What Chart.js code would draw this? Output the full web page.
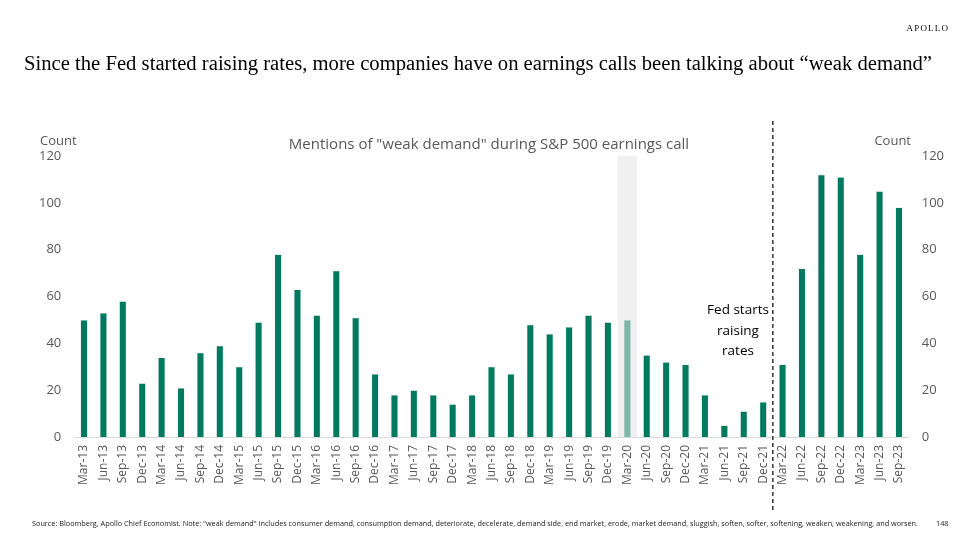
<!DOCTYPE html>
<html>
<head>
<meta charset="utf-8">
<script src="https://cdn.jsdelivr.net/npm/chart.js@4"></script>
<style>
html,body{margin:0;padding:0;background:#fff;}
#wrap{position:relative;width:977px;height:549px;}
</style>
</head>
<body>
<div id="wrap"><canvas id="c" width="977" height="549"></canvas></div>
<script>
const categories = ["Mar-13","Jun-13","Sep-13","Dec-13","Mar-14","Jun-14","Sep-14","Dec-14","Mar-15","Jun-15","Sep-15","Dec-15","Mar-16","Jun-16","Sep-16","Dec-16","Mar-17","Jun-17","Sep-17","Dec-17","Mar-18","Jun-18","Sep-18","Dec-18","Mar-19","Jun-19","Sep-19","Dec-19","Mar-20","Jun-20","Sep-20","Dec-20","Mar-21","Jun-21","Sep-21","Dec-21","Mar-22","Jun-22","Sep-22","Dec-22","Mar-23","Jun-23","Sep-23"];
const mentions = [50,53,58,23,34,21,36,39,30,49,78,63,52,71,51,27,18,20,18,14,18,30,27,48,44,47,52,49,50,35,32,31,18,5,11,15,31,72,112,111,78,105,98];
const yTicks = [0,20,40,60,80,100,120];
const highlightCategory = "Mar-20";
const fedStartAfter = "Dec-21";
const titleText = "Since the Fed started raising rates, more companies have on earnings calls been talking about \u201cweak demand\u201d";
const chartTitle = 'Mentions of "weak demand" during S&P 500 earnings call';
const annotationLines = ["Fed starts","raising","rates"];
const footerText = 'Source: Bloomberg, Apollo Chief Economist. Note: "weak demand" includes consumer demand, consumption demand, deteriorate, decelerate, demand side, end market, erode, market demand, sluggish, soften, softer, softening, weaken, weakening, and worsen.';
const pageNumber = "148";

const GREEN = "#007A5E";
const LIGHT = "#7FB7A6";
const GRAY = "#595959";
const SANS = "'Open Sans', 'Noto Sans', sans-serif";

const barColors = categories.map(c => c === highlightCategory ? LIGHT : GREEN);

const decor = {
  id: 'decor',
  beforeDatasetsDraw(chart) {
    const {ctx, scales:{x, y}} = chart;
    const i = categories.indexOf(highlightCategory);
    const half = (x.getPixelForValue(1) - x.getPixelForValue(0)) / 2;
    const cx = x.getPixelForValue(i);
    ctx.save();
    ctx.fillStyle = "#F0F0F0";
    ctx.fillRect(cx - half, y.getPixelForValue(120), half * 2, y.getPixelForValue(0) - y.getPixelForValue(120));
    ctx.restore();
  },
  afterDraw(chart) {
    const {ctx, scales:{x, y}} = chart;
    ctx.save();
    // Title
    ctx.fillStyle = "#000";
    ctx.font = "20px 'Liberation Serif', serif";
    ctx.textBaseline = "alphabetic";
    ctx.textAlign = "left";
    const tw = ctx.measureText(titleText).width;
    ctx.save();
    ctx.translate(24, 70);
    ctx.scale(908 / tw, 1);
    ctx.fillText(titleText, 0, 0);
    ctx.restore();
    // APOLLO
    ctx.font = "9px 'Liberation Serif', serif";
    ctx.textAlign = "right";
    const letters = "APOLLO".split("");
    let px = 948;
    for (let k = letters.length - 1; k >= 0; k--) {
      ctx.fillText(letters[k], px, 31);
      px -= ctx.measureText(letters[k]).width + 1.2;
    }
    // Chart title
    ctx.fillStyle = GRAY;
    ctx.font = "15px " + SANS;
    ctx.textAlign = "center";
    ctx.fillText(chartTitle, 489, 149);
    // Count labels
    ctx.font = "13px " + SANS;
    ctx.textAlign = "left";
    ctx.fillText("Count", 40, 145);
    ctx.textAlign = "right";
    ctx.fillText("Count", 911, 145);
    // Dashed line between Dec-21 and Mar-22
    const j = categories.indexOf(fedStartAfter);
    const lx = (x.getPixelForValue(j) + x.getPixelForValue(j + 1)) / 2;
    ctx.strokeStyle = "#000";
    ctx.lineWidth = 1.2;
    ctx.setLineDash([4, 3]);
    ctx.beginPath();
    ctx.moveTo(lx, 121);
    ctx.lineTo(lx, 512);
    ctx.stroke();
    ctx.setLineDash([]);
    // Annotation
    ctx.fillStyle = "#000";
    ctx.font = "13.5px " + SANS;
    ctx.textAlign = "center";
    annotationLines.forEach((t, k) => ctx.fillText(t, 738, 314 + k * 20.5));
    // Footer
    ctx.fillStyle = "#222";
    ctx.font = "7.3px " + SANS;
    ctx.textAlign = "left";
    const fw = ctx.measureText(footerText).width;
    ctx.save();
    ctx.translate(32, 526);
    ctx.scale(886 / fw, 1);
    ctx.fillText(footerText, 0, 0);
    ctx.restore();
    ctx.fillText(pageNumber, 936, 526);
    ctx.restore();
  }
};

new Chart(document.getElementById('c'), {
  type: 'bar',
  data: {
    labels: categories,
    datasets: [{
      data: mentions,
      backgroundColor: barColors,
      borderColor: "rgba(200,215,210,0.9)",
      borderWidth: 0.6,
      categoryPercentage: 1,
      barPercentage: 0.37,
      yAxisID: 'y'
    }]
  },
  options: {
    responsive: false,
    animation: false,
    devicePixelRatio: 1,
    layout: { padding: { top: 156, left: 0, right: 0, bottom: 0 } },
    plugins: { legend: { display: false }, tooltip: { enabled: false } },
    scales: {
      x: {
        grid: { display: false, drawTicks: false },
        border: { display: true, color: "#D9D9D9", width: 1 },
        ticks: { color: GRAY, font: { family: SANS, size: 12 }, maxRotation: 90, minRotation: 90, autoSkip: false, padding: 8 },
        afterFit(s) { s.height = 112; }
      },
      y: {
        position: 'left',
        min: 0, max: 120,
        afterBuildTicks(s) { s.ticks = yTicks.map(v => ({ value: v })); },
        grid: { display: false, drawTicks: false },
        border: { display: false },
        ticks: { color: GRAY, font: { family: SANS, size: 13 }, padding: 13 },
        afterFit(s) { s.width = 74.3; }
      },
      y2: {
        position: 'right',
        min: 0, max: 120,
        afterBuildTicks(s) { s.ticks = yTicks.map(v => ({ value: v })); },
        grid: { display: false, drawTicks: false },
        border: { display: false },
        ticks: { color: GRAY, font: { family: SANS, size: 13 }, padding: 13 },
        afterFit(s) { s.width = 68.3; }
      }
    }
  },
  plugins: [decor]
});
</script>
</body>
</html>
